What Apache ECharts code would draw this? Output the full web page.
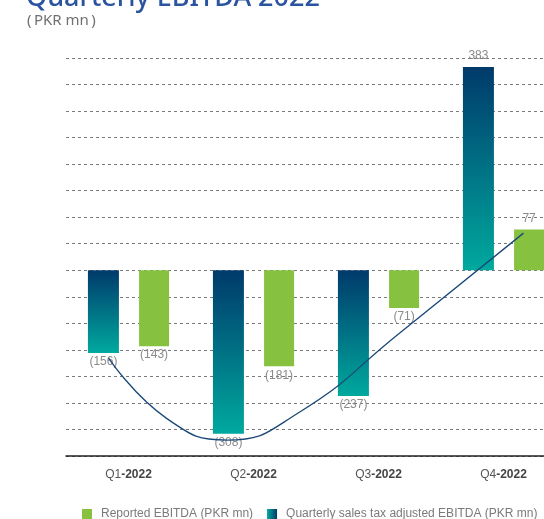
<!DOCTYPE html>
<html>
<head>
<meta charset="utf-8">
<title>Quarterly EBITDA 2022</title>
<script src="https://cdn.jsdelivr.net/npm/echarts@6/dist/echarts.min.js"></script>
<style>
  html, body { margin: 0; padding: 0; background: #ffffff; overflow: hidden; }
  /* the plot runs a little past the right edge of the page */
  #chart { width: 566px; height: 519px; }
</style>
</head>
<body>
<div id="chart"></div>
<script>
// Quarterly EBITDA, PKR mn
const quarters = ['Q1-2022', 'Q2-2022', 'Q3-2022', 'Q4-2022'];
const adjustedEbitda = [-156, -308, -237, 383];
const reportedEbitda = [-143, -181, -71, 77];
// trend curve across the quarters: [position along the category axis, PKR mn]
const trendX = [0.34, 0.81, 1.29, 1.87, 2.67, 3.66];
const trendY = [-165, -280, -320, -267, -118, 70];

const seriesNames = ['Reported EBITDA (PKR mn)', 'Quarterly sales tax adjusted EBITDA (PKR mn)'];

const navy = '#003a6b';
const teal = '#00a99e';
const green = '#86c240';

const chart = echarts.init(document.getElementById('chart'), null, { renderer: 'canvas' });

const valueLabel = (pos, dist) => ({
  show: true,
  position: pos,
  distance: dist,
  color: '#8a8a8a',
  fontSize: 12,
  fontFamily: 'Liberation Sans, Arial, sans-serif',
  formatter: p => p.value < 0 ? '(' + Math.abs(p.value) + ')' : String(p.value)
});

const barData = (values) => values.map(v => ({
  value: v,
  label: v < 0 ? valueLabel('bottom', 3) : valueLabel('top', 5)
}));

chart.setOption({
  animation: false,
  title: [
    {
      text: 'Quarterly EBITDA 2022',
      left: 26,
      top: -15,
      padding: 0,
      textStyle: { color: '#2a53a0', fontSize: 27, fontWeight: 500, fontFamily: 'Noto Sans, sans-serif' }
    },
    {
      text: '(\u2009PKR mn\u2009)',
      left: 27,
      top: 13,
      padding: 0,
      textStyle: { color: '#707070', fontSize: 15, fontWeight: 'normal', fontFamily: 'Noto Sans, sans-serif' }
    }
  ],
  legend: {
    left: 77,
    top: 503,
    width: 800,
    itemWidth: 10,
    itemHeight: 10,
    itemGap: 14,
    icon: 'rect',
    textStyle: {
      color: '#7a7a7a',
      fontSize: 12,
      fontFamily: 'Liberation Sans, Arial, sans-serif',
      padding: [0, 0, 0, 4]
    },
    data: [
      { name: seriesNames[0], itemStyle: { color: green } },
      {
        name: seriesNames[1],
        itemStyle: {
          color: new echarts.graphic.LinearGradient(0, 0, 1, 0, [
            { offset: 0, color: teal },
            { offset: 1, color: navy }
          ])
        }
      }
    ]
  },
  grid: { left: 66, top: 58, right: 0, height: 398, containLabel: false },
  xAxis: [
    {
      type: 'category',
      data: quarters,
      axisLine: { onZero: false, lineStyle: { color: '#222222', width: 1.5 } },
      axisTick: { show: false },
      axisLabel: {
        margin: 13,
        formatter: v => '{a|' + v.slice(0, 2) + '}{b|' + v.slice(2) + '}',
        rich: {
          a: { color: '#555555', fontSize: 12, fontFamily: 'Liberation Sans, Arial, sans-serif' },
          b: { color: '#444444', fontSize: 12, fontWeight: 'bold', fontFamily: 'Liberation Sans, Arial, sans-serif' }
        }
      }
    },
    { type: 'value', min: 0, max: 4, show: false }
  ],
  yAxis: {
    type: 'value',
    min: -350,
    max: 400,
    interval: 50,
    axisLabel: { show: false },
    axisLine: { show: false },
    axisTick: { show: false },
    splitLine: { lineStyle: { color: '#7a7a7a', type: [3, 3], width: 1 } }
  },
  series: [
    {
      name: seriesNames[1],
      type: 'bar',
      barWidth: 31,
      barGap: '65%',
      itemStyle: {
        color: new echarts.graphic.LinearGradient(0, 0, 0, 1, [
          { offset: 0, color: navy },
          { offset: 1, color: teal }
        ])
      },
      data: barData(adjustedEbitda)
    },
    {
      name: seriesNames[0],
      type: 'bar',
      barWidth: 30,
      itemStyle: { color: green },
      data: barData(reportedEbitda)
    },
    {
      name: 'trend',
      type: 'line',
      xAxisIndex: 1,
      smooth: 0.5,
      showSymbol: false,
      symbol: 'none',
      z: 5,
      lineStyle: { color: '#1b4878', width: 1.3 },
      data: trendX.map((x, i) => [x, trendY[i]])
    }
  ]
});
</script>
</body>
</html>
